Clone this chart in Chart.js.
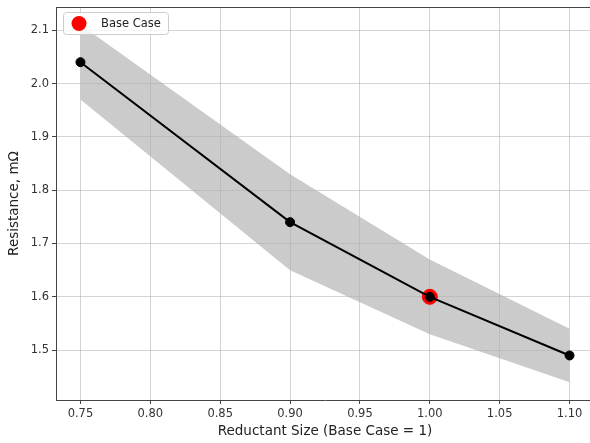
<!DOCTYPE html>
<html lang="en">
<head>
    <meta charset="UTF-8">
    <title>Resistance vs Reductant Size</title>
    <script src="https://cdn.jsdelivr.net/npm/chart.js"></script>
    <style>
        html, body {
            margin: 0;
            padding: 0;
            background: #fff;
            overflow: hidden;
        }
        #wrap {
            width: 590px;
            height: 443px;
            overflow: hidden;
            position: relative;
        }
        canvas { display: block; }
    </style>
</head>
<body>
    <div id="wrap">
        <canvas id="resChart" width="596" height="443"></canvas>
    </div>
    <script>
        // values
        const sizes = [0.75, 0.90, 1.00, 1.10];
        const resistance = [2.04, 1.74, 1.60, 1.49];
        const upperBand = [2.11, 1.83, 1.67, 1.54];
        const lowerBand = [1.97, 1.65, 1.53, 1.44];
        const baseSize = [1.00];
        const baseResistance = [1.60];
        const xTicks = [0.75, 0.80, 0.85, 0.90, 0.95, 1.00, 1.05, 1.10];
        const yTicks = [1.5, 1.6, 1.7, 1.8, 1.9, 2.0, 2.1];

        const pts = (xs, ys) => xs.map((x, i) => ({ x: x, y: ys[i] }));

        const axisColor = '#444';
        const gridColor = 'rgba(176,176,176,0.55)';
        const tickFont = { family: 'DejaVu Sans', size: 11.5 };
        const titleFont = { family: 'DejaVu Sans', size: 13.5 };

        // top frame line + inside legend box (right spine falls off the picture)
        const frameAndLegend = {
            id: 'frameAndLegend',
            afterDraw(chart) {
                const { ctx, chartArea: a } = chart;
                ctx.save();
                ctx.strokeStyle = axisColor;
                ctx.lineWidth = 1;
                ctx.beginPath();
                ctx.moveTo(a.left, a.top + 0.5);
                ctx.lineTo(a.right, a.top + 0.5);
                ctx.stroke();

                const ds = chart.data.datasets.find(d => d.inLegend);
                const bx = a.left + 7, by = a.top + 5, bw = 105, bh = 22;
                ctx.fillStyle = 'rgba(255,255,255,0.8)';
                ctx.strokeStyle = '#cccccc';
                ctx.beginPath();
                ctx.roundRect(bx + 0.5, by + 0.5, bw, bh, 3);
                ctx.fill();
                ctx.stroke();
                ctx.fillStyle = ds.backgroundColor;
                ctx.beginPath();
                ctx.arc(bx + 16, by + 11.5, 7.5, 0, Math.PI * 2);
                ctx.fill();
                ctx.fillStyle = '#222';
                ctx.font = '11.5px "DejaVu Sans"';
                ctx.textBaseline = 'middle';
                ctx.fillText(ds.label, bx + 38, by + 12);
                ctx.restore();
            }
        };

        new Chart(document.getElementById('resChart'), {
            type: 'scatter',
            data: {
                datasets: [
                    {
                        label: 'Resistance',
                        data: pts(sizes, resistance),
                        showLine: true,
                        borderColor: '#000',
                        borderWidth: 2,
                        pointRadius: 4.5,
                        pointBackgroundColor: '#000',
                        pointBorderColor: '#000',
                        pointBorderWidth: 1,
                        order: 0
                    },
                    {
                        label: 'Base Case',
                        inLegend: true,
                        data: pts(baseSize, baseResistance),
                        backgroundColor: '#ff0000',
                        borderColor: '#ff0000',
                        pointRadius: 7.5,
                        order: 1
                    },
                    {
                        label: 'Upper',
                        data: pts(sizes, upperBand),
                        showLine: true,
                        borderWidth: 0,
                        borderColor: 'rgba(0,0,0,0)',
                        backgroundColor: '#cbcbcb',
                        pointRadius: 0,
                        fill: '+1',
                        order: 2
                    },
                    {
                        label: 'Lower',
                        data: pts(sizes, lowerBand),
                        showLine: true,
                        borderWidth: 0,
                        borderColor: 'rgba(0,0,0,0)',
                        pointRadius: 0,
                        fill: false,
                        order: 3
                    }
                ]
            },
            options: {
                responsive: false,
                animation: false,
                layout: { autoPadding: false, padding: { left: 0, top: 7, right: 2, bottom: 0 } },
                plugins: {
                    legend: { display: false },
                    tooltip: { enabled: false },
                    filler: { drawTime: 'beforeDraw' }
                },
                scales: {
                    x: {
                        type: 'linear',
                        min: 0.7325,
                        max: 1.1175,
                        afterBuildTicks: s => { s.ticks = xTicks.map(v => ({ value: v })); },
                        afterFit: s => { s.height = 43; s.paddingLeft = 0; s.paddingRight = 0; },
                        grid: { color: gridColor, tickColor: axisColor, tickLength: 4 },
                        border: { color: axisColor, width: 1 },
                        ticks: {
                            font: tickFont,
                            color: '#333',
                            padding: 3,
                            maxRotation: 0,
                            callback: v => Number(v).toFixed(2)
                        },
                        title: {
                            display: true,
                            text: 'Reductant Size (Base Case = 1)',
                            font: titleFont,
                            color: '#222',
                            padding: { top: 0, bottom: 3 }
                        }
                    },
                    y: {
                        type: 'linear',
                        min: 1.4065,
                        max: 2.1435,
                        afterBuildTicks: s => { s.ticks = yTicks.map(v => ({ value: v })); },
                        afterFit: s => { s.width = 56; s.paddingTop = 0; s.paddingBottom = 0; },
                        grid: { color: gridColor, tickColor: axisColor, tickLength: 4 },
                        border: { color: axisColor, width: 1 },
                        ticks: {
                            font: tickFont,
                            color: '#333',
                            padding: 3,
                            callback: v => Number(v).toFixed(1)
                        },
                        title: {
                            display: true,
                            text: 'Resistance, mΩ',
                            font: titleFont,
                            color: '#222',
                            padding: { top: 6, bottom: 0 }
                        }
                    }
                }
            },
            plugins: [frameAndLegend]
        });
    </script>
</body>
</html>
